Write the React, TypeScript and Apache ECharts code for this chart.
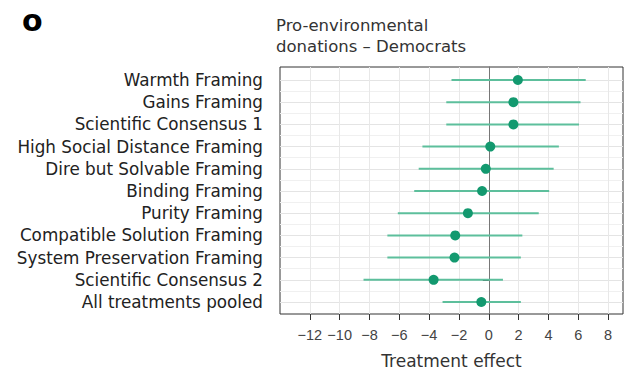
import React, { useEffect, useRef } from "react";
import * as echarts from "echarts";

const categories = [
  "Warmth Framing",
  "Gains Framing",
  "Scientific Consensus 1",
  "High Social Distance Framing",
  "Dire but Solvable Framing",
  "Binding Framing",
  "Purity Framing",
  "Compatible Solution Framing",
  "System Preservation Framing",
  "Scientific Consensus 2",
  "All treatments pooled",
];
const estimates = [1.95, 1.65, 1.65, 0.1, -0.2, -0.45, -1.4, -2.25, -2.3, -3.7, -0.5];
const lower = [-2.5, -2.85, -2.85, -4.45, -4.7, -5.0, -6.1, -6.8, -6.8, -8.4, -3.1];
const upper = [6.5, 6.15, 6.05, 4.7, 4.35, 4.05, 3.35, 2.25, 2.15, 0.95, 2.15];
const xTickValues = [-12, -10, -8, -6, -4, -2, 0, 2, 4, 6, 8];

const FONT = "DejaVu Sans";

export default function App() {
  const ref = useRef<HTMLDivElement>(null);
  useEffect(() => {
    if (!ref.current) return;
    const chart = echarts.init(ref.current, undefined, { renderer: "svg" });
    const errData = categories.map((_, i) => [lower[i], upper[i], i]);
    const ptData = categories.map((_, i) => [estimates[i], i]);
    chart.setOption({
      animation: false,
      backgroundColor: "#ffffff",
      title: [
        {
          text: "Pro-environmental\ndonations – Democrats",
          left: 276,
          top: 15,
          padding: 0,
          textStyle: { fontFamily: FONT, fontSize: 16.5, fontWeight: "normal", color: "#333", lineHeight: 21 },
        },
        {
          text: "o",
          left: 22,
          top: 5,
          padding: 0,
          textStyle: { fontFamily: FONT, fontSize: 30, fontWeight: 900, color: "#000", lineHeight: 30 },
        },
      ],
      grid: [
        { left: 280, right: 12, top: 67, bottom: 59, show: true, borderColor: "#333", borderWidth: 1, backgroundColor: "transparent" },
        { left: 280, right: 12, top: 80, bottom: 72, show: false },
      ],
      xAxis: [
        {
          type: "value",
          gridIndex: 0,
          min: -14,
          max: 9,
          interval: 1,
          name: "Treatment effect",
          nameLocation: "middle",
          nameGap: 38,
          nameTextStyle: { fontFamily: FONT, fontSize: 17, color: "#333" },
          axisLine: { show: false },
          axisTick: { show: true, customValues: xTickValues, length: 6, lineStyle: { color: "#333" } },
          axisLabel: {
            customValues: xTickValues,
            margin: 13,
            fontFamily: "Liberation Sans",
            fontSize: 14.5,
            color: "#444",
            formatter: (v: number) => (v < 0 ? "−" + Math.abs(v) : String(v)),
          },
          splitLine: { show: true, lineStyle: { color: "#e8e8e8", width: 1 } },
        },
        {
          type: "value",
          gridIndex: 1,
          min: -14,
          max: 9,
          show: false,
        },
      ],
      yAxis: [
        {
          type: "value",
          gridIndex: 0,
          min: 0,
          max: 1,
          axisLine: { show: true, onZero: true, lineStyle: { color: "#777", width: 1 } },
          axisTick: { show: false },
          axisLabel: { show: false },
          splitLine: { show: false },
        },
        {
          type: "value",
          gridIndex: 1,
          inverse: true,
          min: 0,
          max: 10,
          interval: 1,
          axisLine: { show: false },
          axisTick: { show: true, length: 6, lineStyle: { color: "#333" } },
          axisLabel: {
            margin: 17,
            fontFamily: FONT,
            fontSize: 16.8,
            color: "#222",
            formatter: (v: number) => categories[v] ?? "",
          },
          splitLine: { show: true, lineStyle: { color: "#e4e4e4", width: 1 } },
          minorTick: { show: false, splitNumber: 2 },
          minorSplitLine: { show: true, lineStyle: { color: "#f0f0f0", width: 1 } },
        },
      ],
      series: [
        {
          type: "custom",
          xAxisIndex: 1,
          yAxisIndex: 1,
          data: errData,
          encode: { x: [0, 1], y: 2 },
          renderItem: (params: any, api: any) => {
            const p1 = api.coord([api.value(0), api.value(2)]);
            const p2 = api.coord([api.value(1), api.value(2)]);
            return {
              type: "line",
              shape: { x1: p1[0], y1: p1[1], x2: p2[0], y2: p2[1] },
              style: { stroke: "#5dbf9c", lineWidth: 2 },
            };
          },
          z: 3,
        },
        {
          type: "scatter",
          xAxisIndex: 1,
          yAxisIndex: 1,
          data: ptData,
          symbol: "circle",
          symbolSize: 10,
          itemStyle: { color: "#13996f", opacity: 1 },
          z: 4,
        },
      ],
    });
    return () => chart.dispose();
  }, []);
  return <div ref={ref} style={{ position: "fixed", left: 0, top: 0, width: 635, height: 374 }} />;
}
